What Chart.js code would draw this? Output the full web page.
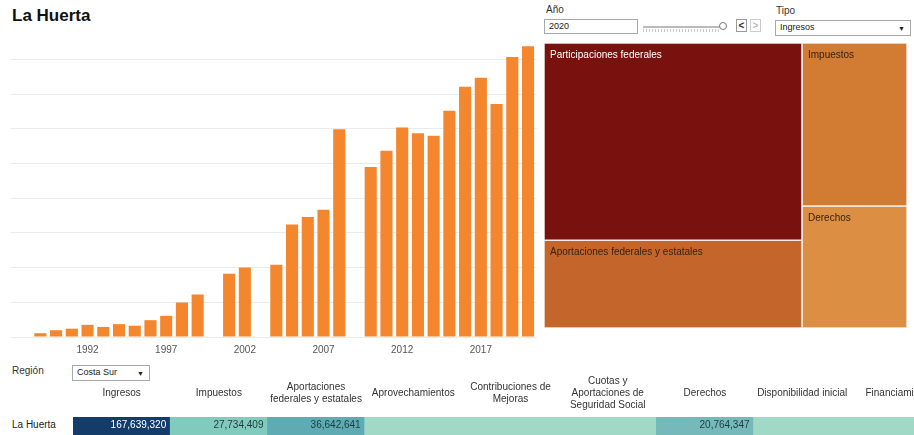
<!DOCTYPE html>
<html>
<head>
<meta charset="utf-8">
<script src="https://cdn.jsdelivr.net/npm/chart.js@4.4.0/dist/chart.umd.min.js"></script>
<style>
  html, body { margin: 0; padding: 0; background: #fff; }
  body {
    width: 914px; height: 435px; overflow: hidden; position: relative;
    font-family: "Liberation Sans", Arial, sans-serif; font-size: 10px; color: #333;
  }
  .abs { position: absolute; }
  .title { left: 12px; top: 6px; font-size: 17px; font-weight: bold; color: #111; }
  .box { border: 1px solid #a8a8a8; background: #fff; box-sizing: border-box; line-height: 13px; padding-left: 4px; color: #222; font-size: 9px; }
  .arrow { position: absolute; right: 5px; top: 0; font-size: 7px; color: #222; }
  .track { left: 643px; top: 26px; width: 78px; height: 2px; background: #bbb; }
  .ticks { left: 643px; top: 29px; width: 78px; height: 3px;
    background: repeating-linear-gradient(90deg, #c8c8c8 0 1px, transparent 1px 3px); }
  .thumb { left: 719px; top: 22px; width: 8px; height: 8px; border-radius: 50%; border: 1px solid #777; background: #fff; box-sizing: border-box; }
  .btn { top: 19px; width: 11px; height: 13px; border: 1px solid #999; box-sizing: border-box; text-align: center; line-height: 11px; font-size: 10px; font-weight: bold; }
  canvas { position: absolute; display: block; }
</style>
</head>
<body>
<div class="abs title">La Huerta</div>

<div class="abs" style="left:546px; top:4px;">Año</div>
<div class="abs box" style="left:544px; top:19px; width:94px; height:15px;">2020</div>
<div class="abs track"></div>
<div class="abs ticks"></div>
<div class="abs thumb"></div>
<div class="abs btn" style="left:736px; color:#333;">&lt;</div>
<div class="abs btn" style="left:750px; color:#bbb; border-color:#ccc;">&gt;</div>
<div class="abs" style="left:776px; top:5px;">Tipo</div>
<div class="abs box" style="left:775px; top:20px; width:136px; height:16px;">Ingresos<span class="arrow" style="top:1px;">▼</span></div>

<div class="abs" style="left:12px; top:365px;">Región</div>
<div class="abs box" style="left:72px; top:365px; width:78px; height:16px;">Costa Sur<span class="arrow" style="top:1px;">▼</span></div>
<div class="abs" style="left:12px; top:419px; color:#222;">La Huerta</div>

<canvas id="barCanvas" width="540" height="360" style="left:0; top:0; width:540px; height:360px;"></canvas>
<canvas id="treeCanvas" width="363" height="285" style="left:544px; top:43px; width:363px; height:285px;"></canvas>
<canvas id="tableCanvas" width="875" height="64" style="left:73px; top:372px; width:875px; height:64px;"></canvas>

<script>
  // ---- bar chart: Ingresos by year ----
  const years = [1989, 1990, 1991, 1992, 1993, 1994, 1995, 1996, 1997, 1998, 1999, 2000,
    2001, 2002, 2003, 2004, 2005, 2006, 2007, 2008, 2009, 2010, 2011, 2012, 2013, 2014,
    2015, 2016, 2017, 2018, 2019, 2020];
  const ingresos = [2.2e6, 3.9e6, 4.8e6, 7.0e6, 5.8e6, 7.4e6, 6.5e6, 9.7e6, 12.2e6, 19.9e6,
    24.5e6, null, 36.5e6, 40.0e6, null, 41.7e6, 64.9e6, 69.2e6, 73.4e6, 119.8e6, null,
    98.0e6, 107.4e6, 120.8e6, 117.5e6, 116.1e6, 130.4e6, 144.3e6, 149.5e6, 134.3e6,
    161.4e6, 167639320];
  const yearTicks = [1992, 1997, 2002, 2007, 2012, 2017];
  const gridValues = [0, 20e6, 40e6, 60e6, 80e6, 100e6, 120e6, 140e6, 160e6];

  // ---- treemap: composition for 2020 ----
  const treeLabels = ["Participaciones federales", "Aportaciones federales y estatales", "Impuestos", "Derechos"];
  const treeValues = [82497923, 36642641, 27734409, 20764347];
  const treeColumns = [[0, 1], [2, 3]];
  const treeColors = ["#79110f", "#c4662b", "#d27b33", "#dc8e43"];
  const treeTextColors = ["#ffffff", "#3a2210", "#3a2210", "#3a2210"];

  // ---- table row: La Huerta ----
  const tableColumns = [
    "Ingresos", "Impuestos", ["Aportaciones", "federales y estatales"], "Aprovechamientos",
    ["Contribuciones de", "Mejoras"], ["Cuotas y", "Aportaciones de", "Seguridad Social"],
    "Derechos", "Disponibilidad inicial", "Financiamiento"
  ];
  const tableValues = [167639320, 27734409, 36642641, null, null, null, 20764347, null, null];
  const tableColors = ["#133c6b", "#80cbbe", "#5fabb3", "#a0d9c6", "#a0d9c6", "#a0d9c6", "#76b9ba", "#a0d9c6", "#a0d9c6"];
  const tableTextColors = ["#ffffff", "#1d3b3b", "#1d3b3b", "#1d3b3b", "#1d3b3b", "#1d3b3b", "#1d3b3b", "#1d3b3b", "#1d3b3b"];

  const font = "'Liberation Sans', Arial, sans-serif";
  Chart.defaults.font.family = font;
  Chart.defaults.animation = false;
  Chart.defaults.plugins.legend.display = false;
  Chart.defaults.plugins.tooltip.enabled = false;

  new Chart(document.getElementById("barCanvas"), {
    type: "bar",
    data: {
      datasets: [{
        data: years.map((y, i) => ({ x: y, y: ingresos[i] })),
        backgroundColor: "#f4862e",
        barPercentage: 0.77,
        categoryPercentage: 1,
      }],
    },
    options: {
      responsive: false,
      layout: { padding: { left: 10, right: 3, top: 30, bottom: 0 } },
      scales: {
        x: {
          type: "linear",
          offset: false,
          min: 1987.07,
          max: 2020.57,
          grid: { display: false, drawTicks: false, offset: false },
          border: { display: false },
          afterBuildTicks: s => { s.ticks = yearTicks.map(v => ({ value: v })); },
          afterFit: s => { s.height = 23; },
          ticks: { padding: 7, color: "#555", font: { size: 10 }, callback: v => String(v), autoSkip: false, maxRotation: 0 },
        },
        y: {
          min: 0,
          max: 177e6,
          grid: { color: "#ebebeb", drawTicks: false },
          border: { display: false },
          afterBuildTicks: s => { s.ticks = gridValues.map(v => ({ value: v })); },
          afterFit: s => { s.width = 0; },
          ticks: { display: false },
        },
      },
    },
  });

  function layoutTree() {
    const total = treeValues.reduce((a, b) => a + b, 0);
    const rects = [];
    let x0 = 0;
    treeColumns.forEach(col => {
      const colSum = col.reduce((s, i) => s + treeValues[i], 0);
      const x1 = x0 + colSum / total;
      let y1 = 1;
      col.forEach(i => {
        const y0 = y1 - treeValues[i] / colSum;
        rects[i] = { x0, x1, y0, y1 };
        y1 = y0;
      });
      x0 = x1;
    });
    return rects;
  }
  const rects = layoutTree();

  const treeLabelPlugin = {
    id: "treeLabels",
    afterDatasetsDraw(chart) {
      const { ctx, scales } = chart;
      ctx.save();
      ctx.font = "10px " + font;
      ctx.textBaseline = "middle";
      ctx.textAlign = "left";
      rects.forEach((r, i) => {
        ctx.fillStyle = treeTextColors[i];
        ctx.fillText(treeLabels[i], scales.x.getPixelForValue(r.x0) + 6, scales.y.getPixelForValue(r.y1) + 12);
      });
      ctx.restore();
    },
  };

  new Chart(document.getElementById("treeCanvas"), {
    type: "line",
    data: {
      datasets: rects.map((r, i) => ({
        data: [
          { x: r.x0, y: r.y0 }, { x: r.x0, y: r.y1 }, { x: r.x1, y: r.y1 },
          { x: r.x1, y: r.y0 }, { x: r.x0, y: r.y0 },
        ],
        fill: "shape",
        backgroundColor: treeColors[i],
        borderColor: "#f4ece4",
        borderWidth: 1.5,
        pointRadius: 0,
        tension: 0,
      })),
    },
    options: {
      responsive: false,
      layout: { padding: 0, autoPadding: false },
      scales: {
        x: { type: "linear", min: 0, max: 1, display: false },
        y: { type: "linear", min: 0, max: 1, display: false },
      },
    },
    plugins: [treeLabelPlugin],
  });

  const cellLabelPlugin = {
    id: "cellLabels",
    afterDatasetsDraw(chart) {
      const { ctx } = chart;
      const meta = chart.getDatasetMeta(0);
      ctx.save();
      ctx.font = "10px " + font;
      ctx.textBaseline = "middle";
      ctx.textAlign = "right";
      meta.data.forEach((bar, i) => {
        if (tableValues[i] == null) return;
        ctx.fillStyle = tableTextColors[i];
        ctx.fillText(tableValues[i].toLocaleString("en-US"), bar.x + bar.width / 2 - 4, chart.chartArea.top + 8);
      });
      ctx.restore();
    },
  };

  new Chart(document.getElementById("tableCanvas"), {
    type: "bar",
    data: {
      labels: tableColumns,
      datasets: [{
        data: tableColumns.map(() => 1),
        backgroundColor: tableColors,
        barPercentage: 1,
        categoryPercentage: 1,
      }],
    },
    options: {
      responsive: false,
      layout: { padding: 0 },
      scales: {
        x: {
          position: "top",
          grid: { display: false, drawTicks: false },
          border: { display: false },
          afterFit: s => { s.height = 45; },
          ticks: {
            padding: 12, color: "#333", crossAlign: "center", autoSkip: false, maxRotation: 0,
            font: { size: 10, lineHeight: 1.2 },
          },
        },
        y: { min: 0, max: 1, display: false },
      },
    },
    plugins: [cellLabelPlugin],
  });
</script>
</body>
</html>
